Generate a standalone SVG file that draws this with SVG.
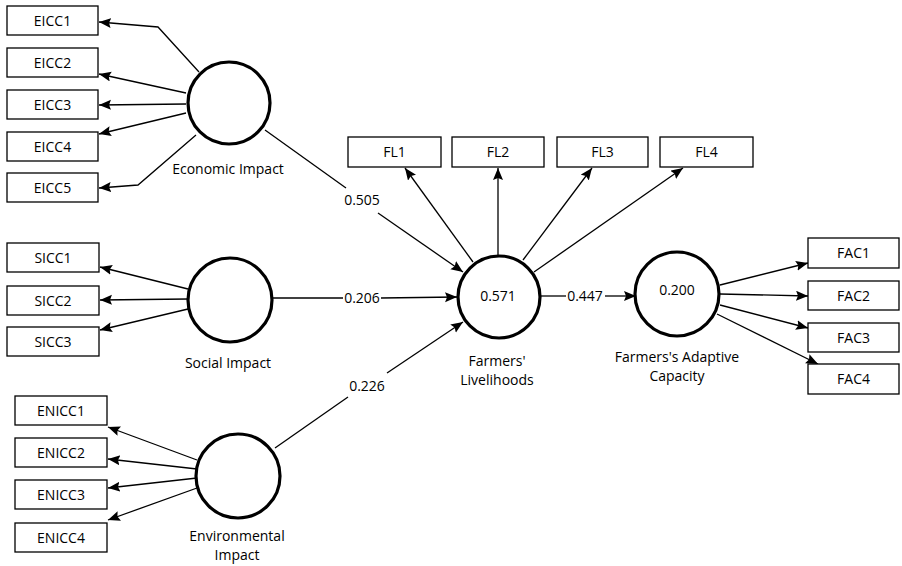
<svg xmlns="http://www.w3.org/2000/svg" width="902" height="566" viewBox="0 0 902 566">
<style>
.box{fill:#fff;stroke:#000;stroke-width:1.3}
.lv{fill:#fff;stroke:#000;stroke-width:3.2}
.t{font-family:"Open Sans","Noto Sans","DejaVu Sans",sans-serif;font-size:14px;fill:#000;text-anchor:middle}
.c{fill:none;stroke:#000;stroke-width:1.3}
</style>
<defs>
<marker id="ah" markerUnits="userSpaceOnUse" markerWidth="13" markerHeight="11" refX="12" refY="5" orient="auto">
<path d="M0,0 L12,5 L0,10 L2,5 z" fill="#000"/>
</marker>
</defs>
<rect width="902" height="566" fill="#fff"/>
<g id="connectors">
<polyline class="c" points="199,72 158,27 99,22" marker-end="url(#ah)"/>
<line class="c" x1="186" y1="93" x2="99" y2="74" marker-end="url(#ah)"/>
<line class="c" x1="186" y1="104" x2="99" y2="105" marker-end="url(#ah)"/>
<line class="c" x1="186" y1="113" x2="99" y2="134" marker-end="url(#ah)"/>
<polyline class="c" points="196,135 138,185 99,188" marker-end="url(#ah)"/>
<line class="c" x1="188" y1="289" x2="100" y2="267" marker-end="url(#ah)"/>
<line class="c" x1="188" y1="299" x2="100" y2="300" marker-end="url(#ah)"/>
<line class="c" x1="188" y1="309" x2="100" y2="330" marker-end="url(#ah)"/>
<line class="c" x1="197" y1="460" x2="108" y2="427" marker-end="url(#ah)"/>
<line class="c" x1="197" y1="469" x2="108" y2="459" marker-end="url(#ah)"/>
<line class="c" x1="197" y1="478" x2="108" y2="488" marker-end="url(#ah)"/>
<line class="c" x1="197" y1="488" x2="108" y2="520" marker-end="url(#ah)"/>
<line class="c" x1="265" y1="130" x2="346" y2="188"/>
<line class="c" x1="378" y1="213" x2="463" y2="272" marker-end="url(#ah)"/>
<line class="c" x1="272" y1="298" x2="343" y2="298"/>
<line class="c" x1="381" y1="298" x2="457" y2="297" marker-end="url(#ah)"/>
<line class="c" x1="275" y1="448" x2="348" y2="397"/>
<line class="c" x1="387" y1="373" x2="463" y2="322" marker-end="url(#ah)"/>
<line class="c" x1="540" y1="296" x2="566" y2="296"/>
<line class="c" x1="605" y1="296" x2="636" y2="296" marker-end="url(#ah)"/>
<line class="c" x1="473" y1="262" x2="405" y2="168" marker-end="url(#ah)"/>
<line class="c" x1="498" y1="255" x2="498" y2="168" marker-end="url(#ah)"/>
<line class="c" x1="523" y1="260" x2="592" y2="168" marker-end="url(#ah)"/>
<line class="c" x1="534" y1="272" x2="683" y2="168" marker-end="url(#ah)"/>
<line class="c" x1="720" y1="285" x2="808" y2="263" marker-end="url(#ah)"/>
<line class="c" x1="720" y1="294" x2="808" y2="296" marker-end="url(#ah)"/>
<line class="c" x1="720" y1="305" x2="808" y2="328" marker-end="url(#ah)"/>
<line class="c" x1="717" y1="314" x2="818" y2="364" marker-end="url(#ah)"/>
</g>
<g id="path-labels">
<text class="t" x="362" y="205">0.505</text>
<text class="t" x="362" y="303">0.206</text>
<text class="t" x="367" y="391">0.226</text>
<text class="t" x="585" y="301">0.447</text>
</g>
<g id="EICC1"><rect class="box" x="7" y="6" width="91" height="29"/><text class="t" x="52.5" y="25.5">EICC1</text></g>
<g id="EICC2"><rect class="box" x="7" y="48" width="91" height="29"/><text class="t" x="52.5" y="67.5">EICC2</text></g>
<g id="EICC3"><rect class="box" x="7" y="90" width="91" height="29"/><text class="t" x="52.5" y="109.5">EICC3</text></g>
<g id="EICC4"><rect class="box" x="7" y="132" width="91" height="29"/><text class="t" x="52.5" y="151.5">EICC4</text></g>
<g id="EICC5"><rect class="box" x="7" y="173" width="91" height="29"/><text class="t" x="52.5" y="192.5">EICC5</text></g>
<g id="SICC1"><rect class="box" x="7" y="243" width="92" height="29"/><text class="t" x="53" y="262.5">SICC1</text></g>
<g id="SICC2"><rect class="box" x="7" y="286" width="92" height="29"/><text class="t" x="53" y="305.5">SICC2</text></g>
<g id="SICC3"><rect class="box" x="7" y="327" width="92" height="29"/><text class="t" x="53" y="346.5">SICC3</text></g>
<g id="ENICC1"><rect class="box" x="15" y="396" width="92" height="29"/><text class="t" x="61" y="415.5">ENICC1</text></g>
<g id="ENICC2"><rect class="box" x="15" y="438" width="92" height="29"/><text class="t" x="61" y="457.5">ENICC2</text></g>
<g id="ENICC3"><rect class="box" x="15" y="480" width="92" height="29"/><text class="t" x="61" y="499.5">ENICC3</text></g>
<g id="ENICC4"><rect class="box" x="15" y="523" width="92" height="29"/><text class="t" x="61" y="542.5">ENICC4</text></g>
<g id="FL1"><rect class="box" x="348" y="137" width="93" height="30"/><text class="t" x="394.5" y="157">FL1</text></g>
<g id="FL2"><rect class="box" x="452" y="137" width="92" height="30"/><text class="t" x="498" y="157">FL2</text></g>
<g id="FL3"><rect class="box" x="557" y="137" width="91" height="30"/><text class="t" x="602.5" y="157">FL3</text></g>
<g id="FL4"><rect class="box" x="660" y="137" width="93" height="30"/><text class="t" x="706.5" y="157">FL4</text></g>
<g id="FAC1"><rect class="box" x="808" y="238" width="91" height="30"/><text class="t" x="853.5" y="258">FAC1</text></g>
<g id="FAC2"><rect class="box" x="808" y="281" width="91" height="29"/><text class="t" x="853.5" y="300.5">FAC2</text></g>
<g id="FAC3"><rect class="box" x="808" y="323" width="91" height="29"/><text class="t" x="853.5" y="342.5">FAC3</text></g>
<g id="FAC4"><rect class="box" x="808" y="364" width="91" height="30"/><text class="t" x="853.5" y="384">FAC4</text></g>
<g id="EconomicImpact"><circle class="lv" cx="229" cy="103" r="41"/><text class="t" x="228" y="174">Economic Impact</text></g>
<g id="SocialImpact"><circle class="lv" cx="230" cy="300" r="42"/><text class="t" x="228" y="368">Social Impact</text></g>
<g id="EnvironmentalImpact"><circle class="lv" cx="238" cy="476" r="42"/><text class="t" x="237" y="541">Environmental</text><text class="t" x="237" y="560">Impact</text></g>
<g id="FarmersLivelihoods"><circle class="lv" cx="499" cy="297" r="41"/><text class="t" x="498" y="301">0.571</text><text class="t" x="497" y="366">Farmers'</text><text class="t" x="497" y="385">Livelihoods</text></g>
<g id="FarmersAdaptiveCapacity"><circle class="lv" cx="677" cy="294" r="42"/><text class="t" x="677" y="295">0.200</text><text class="t" x="677" y="362">Farmers's Adaptive</text><text class="t" x="677" y="381">Capacity</text></g>
</svg>
